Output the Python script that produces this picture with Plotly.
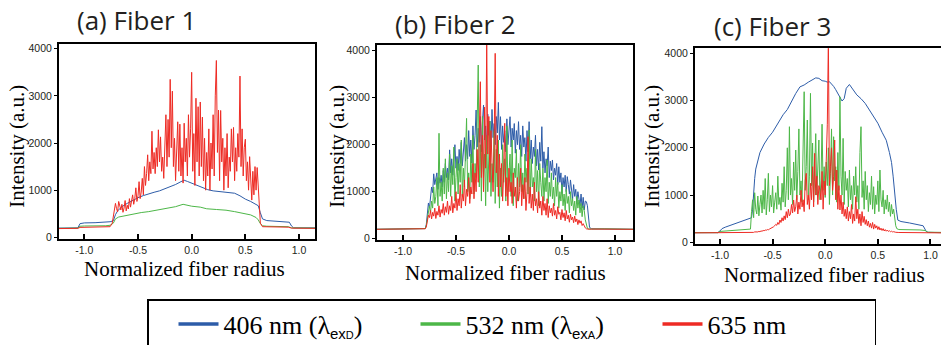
import numpy as np
import plotly.graph_objects as go

BLUE = "#2d5ca8"
GREEN = "#4db748"
RED = "#ee2b24"


def grid(a, b):
    """sampling positions (step 0.01) of the densely sampled part of a profile"""
    return [round(v, 2) for v in np.arange(a, b + 0.005, 0.01)]


# ---------------- labels ----------------
SUB = ('<sub><span style="font-family:Liberation Sans;font-size:15px">ex'
       '<span style="font-size:11px">{}</span></span></sub>')
series_names = ["406 nm (λ" + SUB.format("D") + ")",
                "532 nm (λ" + SUB.format("A") + ")",
                "635 nm"]
panel_titles = ["(a) Fiber 1", "(b) Fiber 2", "(c) Fiber 3"]
x_title = "Normalized fiber radius"
y_title = "Intensity (a.u.)"
x_tickvals = [-1.0, -0.5, 0.0, 0.5, 1.0]
x_ticktext = ["-1.0", "-0.5", "0.0", "0.5", "1.0"]
y_tickvals = [0, 1000, 2000, 3000, 4000]
y_ticktext = ["0", "1000", "2000", "3000", "4000"]

# ---------------- (a) Fiber 1 ----------------
a_blue_x = [-1.24, -1.06, -1.04, -1.00, -0.90, -0.80, -0.76, -0.73, -0.71, -0.69,
            -0.65, -0.60, -0.55, -0.50, -0.45, -0.40, -0.35, -0.30, -0.25, -0.20,
            -0.15, -0.10, -0.07, -0.04, 0.00, 0.05, 0.10, 0.15, 0.20, 0.25,
            0.30, 0.35, 0.40, 0.45, 0.50, 0.55, 0.60, 0.62, 0.64, 0.66,
            0.70, 0.80, 0.88, 0.91, 0.93, 0.95, 1.15]
a_blue_y = [195, 200, 290, 305, 310, 318, 330, 350, 480, 560,
            650, 720, 785, 840, 885, 925, 955, 985, 1025, 1065,
            1120, 1180, 1210, 1185, 1150, 1100, 1055, 1010, 985, 975,
            965, 955, 935, 880, 810, 760, 705, 670, 520, 390,
            355, 345, 330, 320, 240, 200, 200]

a_green_x = [-1.24, -1.06, -1.04, -1.00, -0.80, -0.76, -0.73, -0.71, -0.68, -0.60,
             -0.54, -0.47, -0.40, -0.32, -0.23, -0.15, -0.08, -0.04, 0.00, 0.08,
             0.14, 0.23, 0.32, 0.40, 0.48, 0.55, 0.60, 0.62, 0.64, 0.66,
             0.70, 0.90, 0.93, 1.15]
a_green_y = [190, 195, 235, 240, 245, 255, 300, 390, 430, 465,
             505, 525, 545, 575, 614, 650, 700, 680, 660, 640,
             605, 590, 575, 545, 510, 475, 420, 370, 290, 245,
             235, 225, 200, 195]

a_red_edge_left_x = [-1.24, -1.06, -1.04, -0.80, -0.76, -0.74]
a_red_edge_left_y = [185, 190, 210, 215, 225, 300]
a_red_core_y = [  # x = -0.73 ... 0.63
    420, 560, 720, 610, 540, 760, 650, 580, 700, 530,
    620, 780, 560, 680, 600, 820, 640, 750, 900, 700,
    820, 1050, 760, 880, 1180, 820, 960, 1250, 900, 1500,
    1100, 1350, 1750, 1200, 1600, 1350, 2250, 1450, 1800, 1350,
    1900, 1500, 2280, 1600, 2130, 1400, 1700, 1250, 2000, 2600,
    1500, 2500, 1700, 3350, 1900, 3100, 1500, 2100, 1200, 1800,
    2450, 1400, 2400, 1300, 1900, 1150, 2420, 1600, 2100, 1300,
    2600, 1700, 2300, 3500, 1400, 2200, 1100, 2950, 1600, 2770,
    1300, 2870, 1500, 2550, 1200, 2100, 1000, 1800, 1300, 2300,
    1000, 2000, 1450, 2600, 1300, 3000, 3750, 1800, 2700, 1200,
    2690, 1600, 2100, 1000, 1900, 1300, 2200, 1050, 1700, 1400,
    2300, 1600, 2330, 1200, 1900, 1400, 2200, 1700, 3420, 1500,
    2300, 1300, 1900, 2080, 1200, 1600, 1000, 1710, 1100, 790,
    1400, 900, 1500, 1000, 1480, 1100, 600]
a_red_edge_right_x = [0.64, 0.66, 0.90, 0.93, 1.15]
a_red_edge_right_y = [300, 225, 215, 195, 190]

# ---------------- (b) Fiber 2 ----------------
b_edge_left_x = [-1.25, -1.00, -0.85, -0.80, -0.79]
b_edge_right_x = [0.76, 0.78, 0.90, 1.17]
b_blue_left_y = [200, 205, 200, 205, 215]
b_green_left_y = [200, 205, 200, 205, 215]
b_red_left_y = [200, 205, 200, 205, 212]
b_blue_core_y = [  # x = -0.78 ... 0.75
    300, 520, 760, 650, 820, 1100, 980, 1380, 1150, 1250,
    1400, 1050, 1300, 1180, 1350, 1100, 1450, 1200, 1600, 1300,
    1500, 1250, 1890, 1400, 1700, 1350, 1800, 2000, 1500, 1750,
    1450, 1900, 1600, 2050, 1550, 1850, 2150, 1650, 2000, 1700,
    2300, 1750, 2100, 1610, 2400, 1900, 2200, 2738, 1950, 2350,
    2050, 2600, 1850, 2500, 2845, 2100, 2400, 1900, 2650, 2200,
    2500, 1950, 2750, 2150, 2450, 2000, 2600, 2250, 2900, 2100,
    2596, 1900, 2400, 2050, 2300, 1850, 2550, 2000, 2250, 2596,
    1950, 2350, 2100, 2450, 1820, 2300, 2000, 2490, 1900, 2200,
    1750, 2400, 1950, 2150, 1650, 2300, 1850, 2490, 1700, 2100,
    1600, 1950, 1750, 2200, 1550, 1900, 1460, 2050, 1650, 2383,
    1500, 1850, 1400, 1700, 1550, 1950, 1300, 1650, 1450, 1675,
    1250, 1500, 1350, 1600, 1150, 1530, 1200, 1400, 965, 1300,
    1100, 1350, 1000, 1320, 1150, 950, 1250, 1050, 850, 1150,
    900, 1050, 750, 1000, 860, 700, 950, 650, 880, 610,
    800, 787, 700, 500]
b_green_core_y = [
    280, 450, 600, 700, 550, 800, 650, 1100, 750, 900,
    1300, 700, 2243, 900, 1200, 800, 1500, 950, 1700, 850,
    1400, 1000, 1800, 900, 1550, 1150, 1950, 800, 1300, 1700,
    950, 1600, 1200, 2100, 900, 1500, 1100, 2000, 2560, 1000,
    1400, 850, 1800, 1200, 2200, 950, 1600, 1300, 2400, 3695,
    1100, 2000, 800, 2600, 1300, 1800, 700, 2200, 1000, 1700,
    2500, 900, 1600, 1200, 2300, 750, 1900, 1100, 2100, 650,
    1500, 900, 2000, 1200, 1700, 800, 2400, 1000, 1400, 1800,
    900, 2100, 700, 1500, 1300, 1900, 800, 1600, 1100, 2000,
    1000, 1400, 850, 1800, 1200, 1500, 950, 2313, 900, 1700,
    1100, 1300, 800, 1900, 1000, 1450, 700, 1600, 1200, 900,
    1500, 800, 1300, 1000, 1675, 750, 1200, 900, 1400, 850,
    1100, 700, 1300, 900, 1200, 650, 1000, 800, 1150, 700,
    950, 600, 1050, 750, 900, 550, 1000, 700, 850, 600,
    800, 500, 900, 650, 823, 550, 750, 468, 700, 600,
    400, 260, 220, 210]
b_red_core_y = [
    250, 380, 500, 450, 600, 420, 560, 480, 650, 430,
    580, 500, 700, 460, 620, 540, 750, 500, 680, 560,
    800, 520, 700, 600, 900, 550, 750, 650, 1000, 600,
    850, 700, 1150, 650, 950, 800, 1250, 700, 1050, 900,
    1300, 750, 1100, 950, 1600, 850, 1400, 1000, 1900, 1200,
    2500, 3340, 1300, 2200, 1000, 2800, 1500, 4150, 1800, 2600,
    1200, 2300, 1600, 1000, 2000, 3944, 1400, 2200, 900, 1800,
    1100, 1600, 800, 1400, 2455, 900, 1300, 700, 1500, 1000,
    1200, 750, 1400, 900, 1100, 650, 1300, 800, 1000, 1500,
    700, 1150, 850, 1300, 600, 1000, 2170, 750, 1100, 650,
    950, 600, 1200, 700, 850, 550, 1000, 650, 800, 500,
    900, 600, 750, 500, 850, 450, 700, 550, 650, 480,
    750, 500, 600, 420, 680, 520, 560, 400, 620, 450,
    550, 380, 600, 420, 500, 350, 520, 400, 460, 340,
    480, 360, 420, 300, 400, 330, 380, 280, 320, 260,
    230, 210, 205, 200]
b_blue_right_y = [240, 210, 205, 200]
b_green_right_y = [205, 205, 210, 200]
b_red_right_y = [200, 205, 205, 200]

# ---------------- (c) Fiber 3 ----------------
c_blue_x = [-1.24, -1.02, -1.00, -0.98, -0.95, -0.90, -0.85, -0.80, -0.75, -0.72,
            -0.70, -0.69, -0.68, -0.67, -0.66, -0.64, -0.62, -0.58, -0.54, -0.50,
            -0.45, -0.40, -0.36, -0.32, -0.28, -0.24, -0.20, -0.16, -0.12, -0.09,
            -0.06, -0.03, 0.00, 0.02, 0.04, 0.06, 0.08, 0.10, 0.13, 0.16,
            0.18, 0.20, 0.23, 0.26, 0.30, 0.34, 0.38, 0.42, 0.46, 0.50,
            0.54, 0.58, 0.61, 0.63, 0.645, 0.66, 0.675, 0.69, 0.72, 0.80,
            0.88, 0.93, 0.96, 0.98, 1.10]
c_blue_y = [205, 205, 240, 290, 320, 360, 400, 440, 480, 500,
            520, 700, 1100, 1350, 1550, 1750, 1900, 2080, 2220, 2330,
            2520, 2700, 2810, 2990, 3150, 3290, 3330, 3390, 3440, 3480,
            3470, 3420, 3410, 3390, 3400, 3360, 3300, 3230, 3100, 2990,
            3040, 3260, 3340, 3250, 3120, 3040, 2940, 2800, 2670, 2520,
            2330, 2160, 1900, 1690, 1400, 1030, 700, 470, 440, 410,
            375, 350, 230, 210, 205]

c_green_left_x = [-1.24, -1.02, -1.00, -0.90, -0.80, -0.72, -0.71]
c_green_left_y = [205, 205, 230, 250, 262, 272, 280]
c_green_core_y = [  # x = -0.70 ... 0.66
    650, 900, 520, 1050, 700, 600, 980, 560, 800, 1000,
    620, 1100, 700, 1350, 580, 900, 1460, 650, 1000, 750,
    1200, 620, 850, 1050, 700, 1400, 800, 950, 680, 1250,
    850, 1600, 750, 1100, 2000, 900, 2447, 1000, 1350, 800,
    1700, 1100, 1953, 900, 1500, 2400, 1000, 1300, 850, 1800,
    3187, 1100, 1600, 2588, 900, 1400, 3153, 1200, 2100, 850,
    1500, 2300, 1000, 1800, 2165, 900, 1300, 2500, 1100, 1600,
    950, 1700, 1200, 2000, 800, 1450, 2400, 1000, 2235, 1300,
    1600, 850, 1900, 1100, 3080, 1400, 1000, 2200, 800, 1500,
    1100, 1350, 750, 1530, 900, 1200, 700, 1400, 1000, 1600,
    850, 1200, 700, 1900, 2447, 950, 1300, 700, 1500, 900,
    1200, 650, 1050, 800, 1400, 700, 1177, 600, 1000, 800,
    1300, 650, 1530, 900, 750, 1100, 600, 900, 700, 1000,
    650, 850, 550, 800, 600, 700, 450]
c_green_right_x = [0.67, 0.68, 0.70, 0.90, 0.95, 0.97, 1.10]
c_green_right_y = [350, 290, 270, 262, 250, 215, 210]

c_red_left_x = [-1.24, -0.80, -0.72, -0.71]
c_red_left_y = [200, 203, 205, 208]
c_red_core_y = [  # x = -0.70 ... 0.66
    210, 215, 210, 220, 215, 225, 220, 230, 225, 240,
    235, 250, 245, 260, 255, 270, 265, 280, 290, 300,
    310, 330, 350, 380, 360, 420, 380, 472, 420, 520,
    450, 560, 480, 650, 520, 700, 560, 600, 800, 620,
    895, 650, 750, 1000, 600, 850, 700, 1100, 750, 900,
    650, 1300, 1460, 800, 1000, 700, 1250, 900, 1600, 750,
    1883, 1000, 1400, 800, 1200, 1107, 900, 1500, 700, 1300,
    1000, 1800, 2500, 4300, 1200, 1600, 2000, 1100, 1400, 2165,
    900, 1530, 700, 1200, 684, 1000, 600, 850, 550, 700,
    500, 750, 450, 650, 500, 800, 400, 600, 450, 965,
    500, 700, 400, 600, 350, 650, 420, 550, 380, 480,
    350, 450, 320, 400, 300, 420, 280, 380, 300, 350,
    270, 330, 260, 300, 250, 290, 240, 270, 235, 260,
    230, 245, 225, 235, 220, 225, 215]
c_red_right_x = [0.67, 0.70, 1.10]
c_red_right_y = [212, 208, 200]

# ---------------- assemble ----------------
panels = [
    ("", [
        (a_blue_x, a_blue_y, BLUE),
        (a_green_x, a_green_y, GREEN),
        (a_red_edge_left_x + grid(-0.73, 0.63) + a_red_edge_right_x,
         a_red_edge_left_y + a_red_core_y + a_red_edge_right_y, RED),
    ]),
    ("2", [
        (b_edge_left_x + grid(-0.78, 0.75) + b_edge_right_x,
         b_blue_left_y + b_blue_core_y + b_blue_right_y, BLUE),
        (b_edge_left_x + grid(-0.78, 0.75) + b_edge_right_x,
         b_green_left_y + b_green_core_y + b_green_right_y, GREEN),
        (b_edge_left_x + grid(-0.78, 0.75) + b_edge_right_x,
         b_red_left_y + b_red_core_y + b_red_right_y, RED),
    ]),
    ("3", [
        (c_blue_x, c_blue_y, BLUE),
        (c_green_left_x + grid(-0.70, 0.66) + c_green_right_x,
         c_green_left_y + c_green_core_y + c_green_right_y, GREEN),
        (c_red_left_x + grid(-0.70, 0.66) + c_red_right_x,
         c_red_left_y + c_red_core_y + c_red_right_y, RED),
    ]),
]

fig = go.Figure()
for suffix, series in panels:
    for (xs, ys, col) in series:
        assert len(xs) == len(ys), (suffix, col, len(xs), len(ys))
        fig.add_trace(go.Scatter(x=xs, y=ys, mode="lines",
                                 line=dict(color=col, width=1),
                                 xaxis="x" + suffix, yaxis="y" + suffix,
                                 showlegend=False, hoverinfo="skip"))

# legend keys (no data of their own)
for name, col in zip(series_names, [BLUE, GREEN, RED]):
    fig.add_trace(go.Scatter(x=[None], y=[None], mode="lines", name=name,
                             line=dict(color=col, width=3.5), showlegend=True))

W, H = 941, 345
tickfont = dict(family="Liberation Sans", size=10.5, color="#231f20")


def xax(dom, rng, anchor):
    return dict(domain=dom, range=rng, anchor=anchor, showline=True, linecolor="black",
                linewidth=2, mirror=True, ticks="inside", ticklen=5, tickwidth=1.5,
                tickcolor="black", tickvals=x_tickvals, ticktext=x_ticktext,
                tickfont=tickfont, showgrid=False, zeroline=False)


def yax(dom, rng, anchor, mirror=True):
    return dict(domain=dom, range=rng, anchor=anchor, showline=True, linecolor="black",
                linewidth=2, mirror=mirror, ticks="outside", ticklen=3, tickwidth=1,
                tickcolor="black", tickvals=y_tickvals, ticktext=y_ticktext,
                tickfont=tickfont, showgrid=False, zeroline=False)


fig.update_layout(
    width=W, height=H,
    margin=dict(l=0, r=0, t=0, b=0, autoexpand=False),
    paper_bgcolor="white", plot_bgcolor="white",
    xaxis=xax([59 / W, 315 / W], [-1.236, 1.149], "y"),
    yaxis=yax([1 - 239 / H, 1 - 44 / H], [-36, 4100], "x"),
    xaxis2=xax([377 / W, 633 / W], [-1.245, 1.17], "y2"),
    yaxis2=yax([1 - 240 / H, 1 - 44.7 / H], [-28, 4128], "x2"),
    xaxis3=xax([695 / W, 1.0], [-1.237, 1.10], "y3"),
    yaxis3=yax([1 - 244.3 / H, 1 - 48.3 / H], [-42, 4106], "x3", mirror=False),
    legend=dict(orientation="h", x=147 / W, y=1 - 299 / H, xanchor="left", yanchor="top",
                bordercolor="black", borderwidth=1.5, bgcolor="white",
                font=dict(family="Liberation Serif", size=26, color="black"),
                itemwidth=40, indentation=25, entrywidth=162, entrywidthmode="pixels",
                traceorder="normal"),
)

ann = []
for t, (cx, cy) in zip(panel_titles, [(136, 20), (455, 24), (772.5, 26)]):
    ann.append(dict(text=t, x=cx / W, y=1 - cy / H, xref="paper", yref="paper",
                    xanchor="center", yanchor="middle", showarrow=False,
                    font=dict(family="Open Sans", size=26, color="#231f20")))
for cx in [16.7, 336.7, 651.7]:
    ann.append(dict(text=y_title, x=cx / W, y=1 - 146 / H, xref="paper", yref="paper",
                    xanchor="center", yanchor="middle", showarrow=False, textangle=-90,
                    font=dict(family="Liberation Serif", size=21, color="black")))
for cx, cy in [(184.7, 269), (505, 273), (824, 275)]:
    ann.append(dict(text=x_title, x=cx / W, y=1 - cy / H, xref="paper", yref="paper",
                    xanchor="center", yanchor="middle", showarrow=False,
                    font=dict(family="Liberation Serif", size=21, color="black")))
fig.update_layout(annotations=ann)

fig.write_html("out.html", config={"displayModeBar": False},
               post_script="document.body.style.margin='0';")
